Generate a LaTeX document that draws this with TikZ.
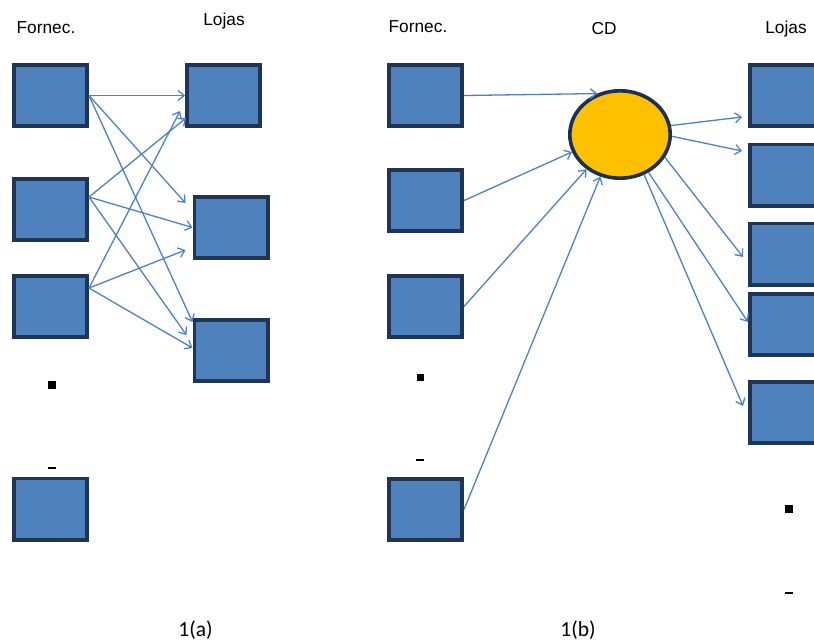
\documentclass[tikz,border=0pt]{standalone}
\usepackage{fontspec}
\setmainfont{Liberation Sans}
\newfontfamily\capfont{Carlito}
\usetikzlibrary{arrows.meta,shapes.geometric,calc}
\definecolor{boxfill}{RGB}{79,129,189}
\definecolor{boxedge}{RGB}{32,52,86}
\definecolor{cdfill}{RGB}{255,192,0}
\definecolor{cdedge}{RGB}{28,48,84}
\definecolor{flow}{RGB}{78,128,196}

\begin{document}
\begin{tikzpicture}[x=1pt,y=-1pt,
  box/.style={draw=boxedge,fill=boxfill,line width=3.6pt,
    minimum width=73.4pt,minimum height=61.4pt,inner sep=0pt},
  hub/.style={ellipse,draw=cdedge,fill=cdfill,line width=3.6pt,
    minimum width=100.4pt,minimum height=87.4pt,inner sep=0pt},
  flowarrow/.style={draw=flow,line width=1.3pt,
    -{Straight Barb[length=6pt,width=10pt,line width=1.3pt]}},
  heading/.style={anchor=base,font=\fontsize{17.3}{19}\selectfont,inner sep=0pt},
  caption/.style={anchor=base,font=\capfont\fontsize{21.5}{23}\selectfont,inner sep=0pt},
  dotmark/.style={fill=black,minimum width=8pt,minimum height=8pt,inner sep=0pt},
  dashmark/.style={fill=black,minimum width=8pt,minimum height=1.4pt,inner sep=0pt}]

\useasboundingbox (0,0) rectangle (814,641);
\clip (0,0) rectangle (814,641);

% ---------- 1(a): direct supply ----------
\node[heading] (ha) at (46,33) {Fornec.};
\node[heading] (hla) at (224,25) {Lojas};

\node[box] (aF1) at (50.5,95.5) {};
\node[box] (aF2) at (50.5,209.5) {};
\node[box] (aF3) at (50.5,306.5) {};
\node[box] (aF4) at (50.5,509) {};

\node[box] (aL1) at (223.5,95.5) {};
\node[box] (aL2) at (231,227.5) {};
\node[box] (aL3) at (231,350.5) {};

\node[dotmark] (adot) at (52,385) {};
\node[dashmark] (adash) at (52,468) {};

\coordinate (a2s) at ($(aF2.east)+(0,-12.5)$);
\coordinate (a3s) at ($(aF3.east)+(0,-18.5)$);

\draw[flowarrow] (aF1.east) -- (aL1.west);
\draw[flowarrow] (aF1.east) -- ($(aL2.west)+(-7,-24.5)$);
\draw[flowarrow] (aF1.east) -- ($(aL3.west)+(0,-28.5)$);
\draw[flowarrow] (a2s) -- ($(aL1.west)+(1,22.5)$);
\draw[flowarrow] (a2s) -- (aL2.west);
\draw[flowarrow] (a2s) -- ($(aL3.west)+(-6,-15.5)$);
\draw[flowarrow] (a3s) -- ($(aL1.west)+(-5,15.5)$);
\draw[flowarrow] (a3s) -- ($(aL2.west)+(-7,22.5)$);
\draw[flowarrow] (a3s) -- ($(aL3.west)+(0,-2.5)$);

\node[caption] (capa) at (195.5,636) {1(a)};

% ---------- 1(b): supply through a distribution centre ----------
\node[heading] (hb) at (418,32) {Fornec.};
\node[heading] (hcd) at (604,34) {CD};
\node[heading] (hlb) at (786,33) {Lojas};

\node[box] (bF1) at (425.5,95.5) {};
\node[box] (bF2) at (425.5,200.5) {};
\node[box] (bF3) at (425.5,306.5) {};
\node[box] (bF4) at (425.5,509.5) {};

\node[hub] (CD) at (620,134.5) {};

\node[box] (bR1) at (786.5,95.5) {};
\node[box] (bR2) at (786.5,175) {};
\node[box] (bR3) at (786.5,254) {};
\node[box] (bR4) at (786.5,324.5) {};
\node[box] (bR5) at (786.5,412.5) {};

\node[dotmark,minimum width=7pt,minimum height=7pt] (bdot) at (420,377) {};
\node[dashmark] (bdash) at (420,460) {};
\node[dotmark] (rdot) at (789,509) {};
\node[dashmark] (rdash) at (789,593) {};

\draw[flowarrow] (bF1.east) -- (CD.119);
\draw[flowarrow] (bF2.east) -- (CD.200);
\draw[flowarrow] (bF3.east) -- (CD.226);
\draw[flowarrow] (bF4.east) -- (CD.245);

\draw[flowarrow] (CD.10) -- ($(bR1.west)+(-6,21.5)$);
\draw[flowarrow] (CD.358) -- ($(bR2.west)+(-6,-24)$);
\draw[flowarrow] (CD.333) -- ($(bR3.west)+(-5,3)$);
\draw[flowarrow] (CD.307) -- ($(bR4.west)+(0,-2.5)$);
\draw[flowarrow] (CD.301) -- ($(bR5.west)+(-5,-6.5)$);

\node[caption] (capb) at (578,636) {1(b)};
\end{tikzpicture}
\end{document}
